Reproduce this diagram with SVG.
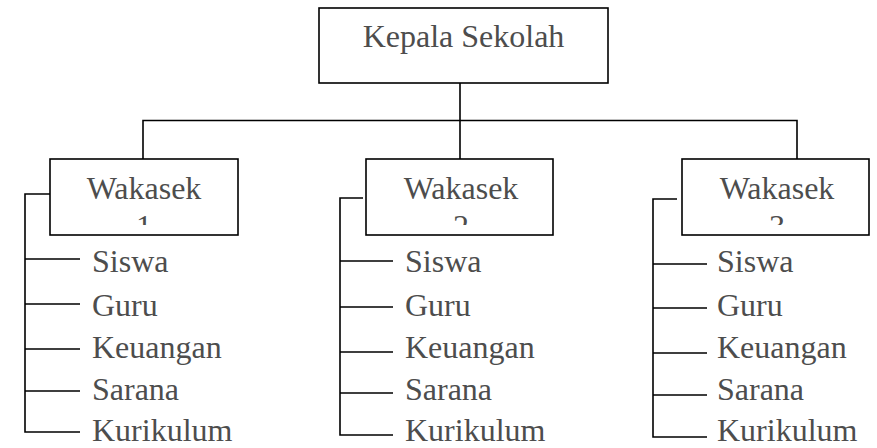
<svg xmlns="http://www.w3.org/2000/svg" width="877" height="448" viewBox="0 0 877 448">
<style>
.box{fill:#fff;stroke:#000;stroke-width:1.6}
.ln{fill:none;stroke:#000;stroke-width:1.6}
.t{font-family:"Liberation Serif","Times New Roman",serif;font-size:32px;fill:#4d4d4d}
.c{text-anchor:middle}
</style>
<defs>
<clipPath id="c1"><rect x="50" y="159" width="188" height="66"/></clipPath>
<clipPath id="c2"><rect x="366" y="159" width="187" height="66"/></clipPath>
<clipPath id="c3"><rect x="682" y="159" width="187" height="66"/></clipPath>
</defs>
<rect width="877" height="448" fill="#fff"/>
<g id="connectors">
<path class="ln" d="M460 83V159M143 159V120.5H797V159"/>
<path class="ln" d="M50 194H25V432H80M25 259H80M25 304H80M25 349H80M25 391H80"/>
<path class="ln" d="M363 198H340V435H393M340 261H393M340 307H393M340 352H393M340 393H393"/>
<path class="ln" d="M677 199H653V437H707M653 264H707M653 308H707M653 353H707M653 395H707"/>
</g>
<g id="kepala">
<rect class="box" x="319" y="8" width="289" height="75"/>
<text class="t c" x="463.5" y="47">Kepala Sekolah</text>
</g>
<g id="wakasek1">
<rect class="box" x="50" y="159" width="188" height="76"/>
<g clip-path="url(#c1)"><text class="t c" x="144" y="199">Wakasek</text><text class="t c" x="144" y="237">1</text></g>
</g>
<g id="wakasek2">
<rect class="box" x="366" y="159" width="187" height="76"/>
<g clip-path="url(#c2)"><text class="t c" x="461" y="199">Wakasek</text><text class="t c" x="461" y="237">2</text></g>
</g>
<g id="wakasek3">
<rect class="box" x="682" y="159" width="187" height="76"/>
<g clip-path="url(#c3)"><text class="t c" x="777" y="199">Wakasek</text><text class="t c" x="777" y="237">3</text></g>
</g>
<g id="items1">
<text class="t" x="92" y="272">Siswa</text>
<text class="t" x="92" y="316">Guru</text>
<text class="t" x="92" y="358">Keuangan</text>
<text class="t" x="92" y="400">Sarana</text>
<text class="t" x="92" y="441">Kurikulum</text>
</g>
<g id="items2">
<text class="t" x="405" y="272">Siswa</text>
<text class="t" x="405" y="316">Guru</text>
<text class="t" x="405" y="358">Keuangan</text>
<text class="t" x="405" y="400">Sarana</text>
<text class="t" x="405" y="441">Kurikulum</text>
</g>
<g id="items3">
<text class="t" x="717" y="272">Siswa</text>
<text class="t" x="717" y="316">Guru</text>
<text class="t" x="717" y="358">Keuangan</text>
<text class="t" x="717" y="400">Sarana</text>
<text class="t" x="717" y="441">Kurikulum</text>
</g>
</svg>
